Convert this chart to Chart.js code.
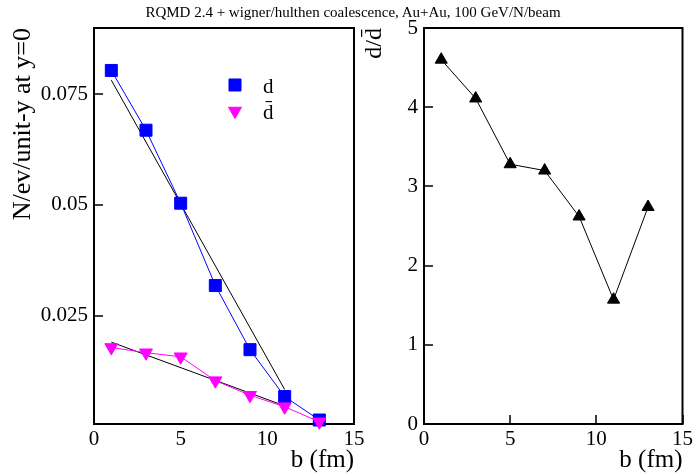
<!DOCTYPE html>
<html>
<head>
<meta charset="utf-8">
<script src="https://cdn.jsdelivr.net/npm/chart.js@4"></script>
<style>
html,body{margin:0;padding:0;background:#fff;}
#wrap{position:relative;width:696px;height:475px;overflow:hidden;background:#fff;}
#title{position:absolute;left:0;top:5px;width:706px;text-align:center;font:15px/15px "Liberation Serif",serif;color:#000;white-space:nowrap;}
canvas{position:absolute;left:0;top:0;}
</style>
</head>
<body>
<div id="wrap">
<canvas id="c1" width="696" height="475"></canvas>
<canvas id="c2" width="696" height="475"></canvas>
<div id="title">RQMD 2.4 + wigner/hulthen coalescence, Au+Au, 100 GeV/N/beam</div>
</div>
<script>
// ---- data ----
const bValues = [1, 3, 5, 7, 9, 11, 13];
const dYield = [0.0804, 0.0669, 0.0504, 0.0318, 0.0173, 0.0067, 0.0014];
const dbarYield = [0.0178, 0.0166, 0.0157, 0.0103, 0.0070, 0.0044, 0.0010];
const dFitB = [1, 11];
const dFitY = [0.0782, 0.0083];
const dbarFitB = [1, 11];
const dbarFitY = [0.0190, 0.0046];
const ratioValues = [4.60, 4.11, 3.28, 3.20, 2.62, 1.57, 2.74];
const xTicks = [0, 5, 10, 15];
const leftYTicks = [0.025, 0.05, 0.075];
const rightYTicks = [0, 1, 2, 3, 4, 5];
const legendLabels = ['d', 'd\u0304'];

const pts = (xs, ys) => xs.map((x, i) => ({x: x, y: ys[i]}));
const FONT = '"Liberation Serif", serif';
Chart.defaults.font.family = FONT;
Chart.defaults.color = '#000';

const frameTicks = {
  id: 'frameTicks',
  beforeDatasetsDraw(chart, args, opts) {
    const {ctx, chartArea: a, scales} = chart;
    ctx.save();
    ctx.strokeStyle = '#000';
    ctx.lineWidth = 1.5;
    ctx.beginPath();
    const len = opts.tickLen || 9;
    if (opts.xTicks) {
      scales.x.ticks.forEach(t => {
        const px = Math.round(scales.x.getPixelForValue(t.value));
        ctx.moveTo(px, a.bottom); ctx.lineTo(px, a.bottom - len);
      });
    }
    if (opts.yTicks) {
      scales.y.ticks.forEach(t => {
        const py = Math.round(scales.y.getPixelForValue(t.value));
        ctx.moveTo(a.left, py); ctx.lineTo(a.left + len, py);
      });
    }
    ctx.stroke();
    ctx.lineWidth = 2;
    ctx.strokeRect(a.left, a.top, a.right - a.left, a.bottom - a.top);
    ctx.restore();
  }
};

const legendPlugin = {
  id: 'innerLegend',
  afterDatasetsDraw(chart, args, opts) {
    if (!opts.show) return;
    const {ctx} = chart;
    ctx.save();
    let row = 0;
    chart.data.datasets.forEach(ds => {
      if (!ds.inLegend) return;
      const y = opts.y + row * opts.rowGap;
      ctx.fillStyle = ds.pointBackgroundColor;
      ctx.strokeStyle = ds.pointBorderColor;
      ctx.lineWidth = 1;
      Chart.helpers.drawPoint(ctx, {pointStyle: ds.pointStyle, rotation: ds.pointRotation || 0, radius: ds.pointRadius, borderWidth: 1}, opts.x, y);
      ctx.fillStyle = '#000';
      ctx.font = opts.font;
      ctx.textBaseline = 'alphabetic';
      ctx.textAlign = 'left';
      ctx.fillText(ds.label, opts.x + opts.textOffset, y + opts.baseShift);
      row++;
    });
    ctx.restore();
  }
};

function xScale(titleText) {
  return {
    type: 'linear', min: 0, max: 15,
    afterBuildTicks: s => { s.ticks = xTicks.map(v => ({value: v})); },
    afterFit: s => { s.height = 51; },
    grid: {display: false, drawTicks: false},
    border: {display: false},
    ticks: {font: {size: 21, family: FONT}, color: '#000', padding: 3, maxRotation: 0, autoSkip: false, callback: v => String(v)},
    title: {display: true, text: titleText, align: 'end', font: {size: 25, family: FONT}, color: '#000', padding: {top: 0, bottom: 0}}
  };
}

new Chart(document.getElementById('c1'), {
  type: 'scatter',
  data: {
    datasets: [
      {label: legendLabels[0], inLegend: true, data: pts(bValues, dYield), showLine: true, borderColor: '#0000ff', borderWidth: 1,
       pointStyle: 'rect', pointRadius: 8.5, pointBackgroundColor: '#0000ff', pointBorderColor: '#0000ff', clip: false, order: 1},
      {label: legendLabels[1], inLegend: true, data: pts(bValues, dbarYield), showLine: true, borderColor: '#ff00ff', borderWidth: 1,
       pointStyle: 'triangle', pointRotation: 180, pointRadius: 7.5, pointBackgroundColor: '#ff00ff', pointBorderColor: '#ff00ff', clip: false, order: 0},
      {label: 'd fit', data: pts(dFitB, dFitY), showLine: true, borderColor: '#000', borderWidth: 1, pointRadius: 0, clip: false, order: 2},
      {label: 'dbar fit', data: pts(dbarFitB, dbarFitY), showLine: true, borderColor: '#000', borderWidth: 1, pointRadius: 0, clip: false, order: 2}
    ]
  },
  options: {
    responsive: false, animation: false, devicePixelRatio: 1,
    layout: {padding: {left: 0, top: 28, right: 342, bottom: 0}},
    plugins: {legend: {display: false}, tooltip: {enabled: false},
      frameTicks: {xTicks: false, yTicks: true, tickLen: 9},
      innerLegend: {show: true, x: 235, y: 85, rowGap: 26, textOffset: 28, baseShift: 8, font: '21px "Liberation Serif", serif'}},
    scales: {
      x: xScale('b (fm)'),
      y: {
        type: 'linear', min: 0.0005, max: 0.09,
        afterBuildTicks: s => { s.ticks = leftYTicks.map(v => ({value: v})); },
        afterFit: s => { s.width = 94; },
        grid: {display: false, drawTicks: false},
        border: {display: false},
        ticks: {font: {size: 21, family: FONT}, color: '#000', padding: 6, autoSkip: false, callback: v => String(v)},
        title: {display: true, text: 'N/ev/unit-y at y=0', align: 'end', font: {size: 26, family: FONT}, color: '#000', padding: {top: 8, bottom: 0}}
      }
    }
  },
  plugins: [frameTicks, legendPlugin]
});

new Chart(document.getElementById('c2'), {
  type: 'scatter',
  data: {
    datasets: [
      {label: 'd/d\u0304', data: pts(bValues, ratioValues), showLine: true, borderColor: '#000', borderWidth: 1,
       pointStyle: 'triangle', pointRadius: 7, pointBackgroundColor: '#000', pointBorderColor: '#000', clip: false}
    ]
  },
  options: {
    responsive: false, animation: false, devicePixelRatio: 1,
    layout: {padding: {left: 360, top: 28, right: 11, bottom: 0}},
    plugins: {legend: {display: false}, tooltip: {enabled: false},
      frameTicks: {xTicks: true, yTicks: true, tickLen: 9},
      innerLegend: {show: false}},
    scales: {
      x: xScale('b (fm)'),
      y: {
        type: 'linear', min: 0, max: 5,
        afterBuildTicks: s => { s.ticks = rightYTicks.map(v => ({value: v})); },
        afterFit: s => { s.width = 64; },
        grid: {display: false, drawTicks: false},
        border: {display: false},
        ticks: {font: {size: 21, family: FONT}, color: '#000', padding: 6, autoSkip: false, callback: v => String(v)},
        title: {display: true, text: 'd/d\u0304', align: 'end', font: {size: 24, family: FONT}, color: '#000', padding: {top: 0, bottom: 0}}
      }
    }
  },
  plugins: [frameTicks, legendPlugin]
});
</script>
</body>
</html>
